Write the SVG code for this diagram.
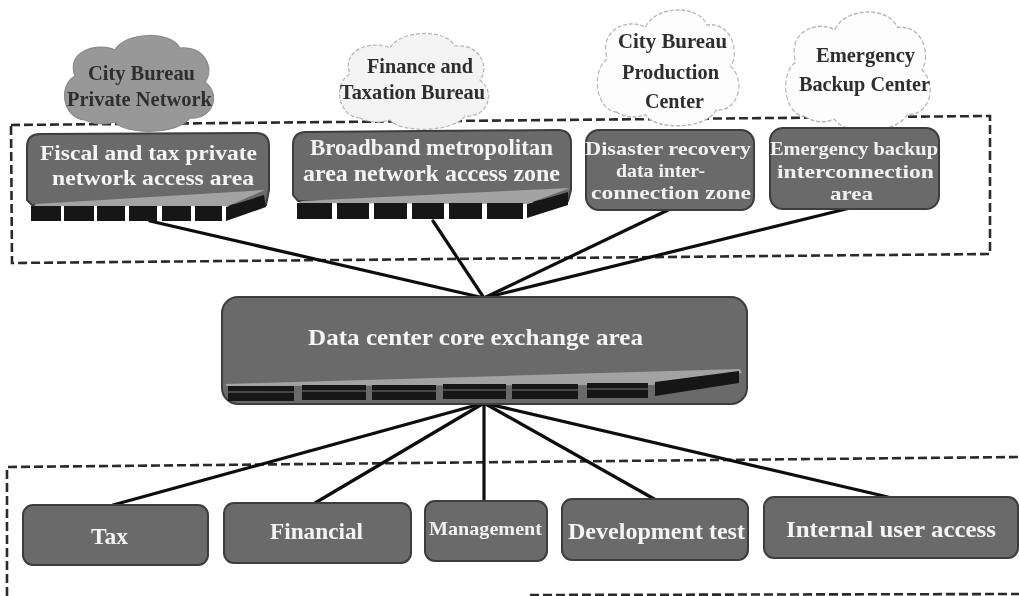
<svg xmlns="http://www.w3.org/2000/svg" xmlns:xlink="http://www.w3.org/1999/xlink" width="1019" height="596" viewBox="0 0 1019 596">
<style>
text{font-family:"Liberation Serif","Times New Roman",serif;font-weight:bold;text-anchor:start}
.w{fill:#f4f4f4;font-size:23px}
.f{fill:#f4f4f4;font-size:21.5px}
.s{fill:#f0f0f0;font-size:19px}
.b{fill:#f4f4f4;font-size:24px}
.d{fill:#2e2e2e;font-size:21px}
.box{fill:#6b6b6b;stroke:#3c3c3c;stroke-width:2}
.frame{fill:none;stroke:#2a2a2a;stroke-width:2.6;stroke-dasharray:9 4}
.link{stroke:#0c0c0c;stroke-width:3.2;fill:none;stroke-linecap:round}
.sw{fill:#161616}
.sl{stroke:#777777;stroke-width:1;fill:none}
.top{fill:#a3a3a3}
.cw{fill:#fdfdfd;stroke:#b5b5b5;stroke-width:1.2;stroke-dasharray:4 2;vector-effect:non-scaling-stroke}
.cg{fill:#989898;stroke:#8a8a8a;stroke-width:1.2;vector-effect:non-scaling-stroke}
</style>
<defs>
<filter id="soft" x="-2%" y="-2%" width="104%" height="104%"><feGaussianBlur stdDeviation="0.55"/></filter>
<path id="cloud" d="M85,120 C62,118 58,85 75,76 C65,50 100,42 115,50 C125,32 170,30 180,48 C205,45 215,70 205,82 C222,95 212,120 190,118 C178,135 125,135 115,122 C105,125 95,125 85,120 Z"/>
</defs>
<rect width="1019" height="596" fill="#ffffff"/>
<g filter="url(#soft)">
<g id="frames">
<path class="frame" d="M11,125 L990,116 L990,254 L12,263 Z"/>
<path class="frame" d="M7,596 L7,467 L1019,457"/>
<path class="frame" d="M530,595 L1019,594"/>
</g>
<g id="connectors">
<path class="link" d="M150,221 L484,298"/>
<path class="link" d="M433,221 L484,298"/>
<path class="link" d="M668,210 L484,298"/>
<path class="link" d="M850,208 L484,298"/>
<path class="link" d="M484,403 L113,505"/>
<path class="link" d="M484,403 L315,503"/>
<path class="link" d="M484,403 L484,501"/>
<path class="link" d="M484,403 L656,500"/>
<path class="link" d="M484,403 L888,497"/>
</g>
<g id="cloud-private">
<use xlink:href="#cloud" href="#cloud" class="cg"/>
<text class="d" x="88" y="80" textLength="107" lengthAdjust="spacingAndGlyphs">City Bureau</text>
<text class="d" x="67" y="106" textLength="145" lengthAdjust="spacingAndGlyphs">Private Network</text>
</g>
<g id="cloud-finance">
<use xlink:href="#cloud" href="#cloud" class="cw" transform="translate(275,-2)" style="fill:#f3f3f3"/>
<text class="d" x="367" y="73" textLength="106" lengthAdjust="spacingAndGlyphs">Finance and</text>
<text class="d" x="340" y="99" textLength="145" lengthAdjust="spacingAndGlyphs">Taxation Bureau</text>
</g>
<g id="cloud-production">
<use xlink:href="#cloud" href="#cloud" class="cw" transform="translate(536,-33) scale(.95,1.21)"/>
<text class="d" x="618" y="48" textLength="109" lengthAdjust="spacingAndGlyphs">City Bureau</text>
<text class="d" x="622" y="79" textLength="97" lengthAdjust="spacingAndGlyphs">Production</text>
<text class="d" x="645" y="108" textLength="59" lengthAdjust="spacingAndGlyphs">Center</text>
</g>
<g id="cloud-emergency">
<use xlink:href="#cloud" href="#cloud" class="cw" transform="translate(723,-32) scale(.97,1.24)"/>
<text class="d" x="816" y="62" textLength="99" lengthAdjust="spacingAndGlyphs">Emergency</text>
<text class="d" x="799" y="91" textLength="131" lengthAdjust="spacingAndGlyphs">Backup Center</text>
</g>
<g id="fiscal-area">
<path class="box" d="M27,200 L27,147 Q27,134 40,134 L256,133 Q269,133 269,146 L269,190 L266,205 L32,205 Z"/>
<path class="top" d="M36,204 L265,190 L228,206 L34,206 Z"/>
<rect class="sw" x="31" y="206" width="30" height="15"/><rect class="sw" x="64" y="206" width="30" height="15"/><rect class="sw" x="97" y="206" width="28" height="15"/><rect class="sw" x="129" y="206" width="28" height="15"/><rect class="sw" x="162" y="206" width="29" height="15"/><rect class="sw" x="195" y="206" width="27" height="15"/>
<path class="sw" d="M226,207 L264,195 L266,207 L226,221 Z"/>
<text class="f" x="40" y="160" textLength="217" lengthAdjust="spacingAndGlyphs">Fiscal and tax private</text>
<text class="f" x="52" y="185" textLength="202" lengthAdjust="spacingAndGlyphs">network access area</text>
</g>
<g id="broadband-zone">
<path class="box" d="M293,195 L293,145 Q293,132 306,132 L558,130 Q571,130 571,143 L571,190 L568,201 L298,201 Z"/>
<path class="top" d="M302,201 L570,188 L527,204 L298,203 Z"/>
<rect class="sw" x="297" y="203" width="35" height="16"/><rect class="sw" x="337" y="203" width="32" height="16"/><rect class="sw" x="374" y="203" width="33" height="16"/><rect class="sw" x="412" y="203" width="32" height="16"/><rect class="sw" x="449" y="203" width="33" height="16"/><rect class="sw" x="487" y="203" width="36" height="16"/>
<path class="sw" d="M527,204 L568,192 L568,205 L527,218 Z"/>
<text class="w" x="310" y="155" textLength="243" lengthAdjust="spacingAndGlyphs">Broadband metropolitan</text>
<text class="w" x="303" y="181" textLength="257" lengthAdjust="spacingAndGlyphs">area network access zone</text>
</g>
<g id="disaster-zone">
<rect class="box" x="586" y="130" width="168" height="80" rx="13"/>
<text class="s" x="585" y="155" textLength="166" lengthAdjust="spacingAndGlyphs">Disaster recovery</text>
<text class="s" x="616" y="177" textLength="89" lengthAdjust="spacingAndGlyphs">data inter-</text>
<text class="s" x="591" y="199" textLength="160" lengthAdjust="spacingAndGlyphs">connection zone</text>
</g>
<g id="emergency-area">
<rect class="box" x="770" y="128" width="169" height="81" rx="13"/>
<text class="s" x="770" y="155" textLength="168" lengthAdjust="spacingAndGlyphs">Emergency backup</text>
<text class="s" x="777" y="178" textLength="157" lengthAdjust="spacingAndGlyphs">interconnection</text>
<text class="s" x="830" y="200" textLength="43" lengthAdjust="spacingAndGlyphs">area</text>
</g>
<g id="core-area">
<rect class="box" x="222" y="297" width="525" height="107" rx="16"/>
<path class="top" d="M226,384 L740,369 L742,373 L652,385 L226,386 Z"/>
<rect class="sw" x="228" y="386" width="66" height="15"/><rect class="sw" x="302" y="385" width="64" height="15"/><rect class="sw" x="372" y="385" width="64" height="15"/><rect class="sw" x="443" y="384" width="63" height="15"/><rect class="sw" x="512" y="384" width="66" height="15"/><rect class="sw" x="587" y="383" width="61" height="15"/>
<path class="sw" d="M655,382 L739,371 L739,383 L655,396 Z"/>
<path class="sl" d="M228,392 H294 M302,391 H366 M372,391 H436 M443,390 H506 M512,390 H578 M587,389 H648"/>
<text class="b" x="308" y="345" textLength="335" lengthAdjust="spacingAndGlyphs">Data center core exchange area</text>
</g>
<g id="tax"><rect class="box" x="23" y="505" width="185" height="60" rx="10"/><text class="b" x="91" y="544" textLength="37" lengthAdjust="spacingAndGlyphs">Tax</text></g>
<g id="financial"><rect class="box" x="224" y="503" width="187" height="60" rx="10"/><text class="b" x="270" y="539" textLength="93" lengthAdjust="spacingAndGlyphs">Financial</text></g>
<g id="management"><rect class="box" x="425" y="501" width="122" height="60" rx="10"/><text class="s" x="429" y="535" textLength="113" lengthAdjust="spacingAndGlyphs">Management</text></g>
<g id="development"><rect class="box" x="562" y="499" width="186" height="61" rx="10"/><text class="b" x="568" y="539" textLength="177" lengthAdjust="spacingAndGlyphs">Development test</text></g>
<g id="internal"><rect class="box" x="764" y="497" width="254" height="61" rx="10"/><text class="b" x="786" y="537" textLength="210" lengthAdjust="spacingAndGlyphs">Internal user access</text></g>
</g>
</svg>
